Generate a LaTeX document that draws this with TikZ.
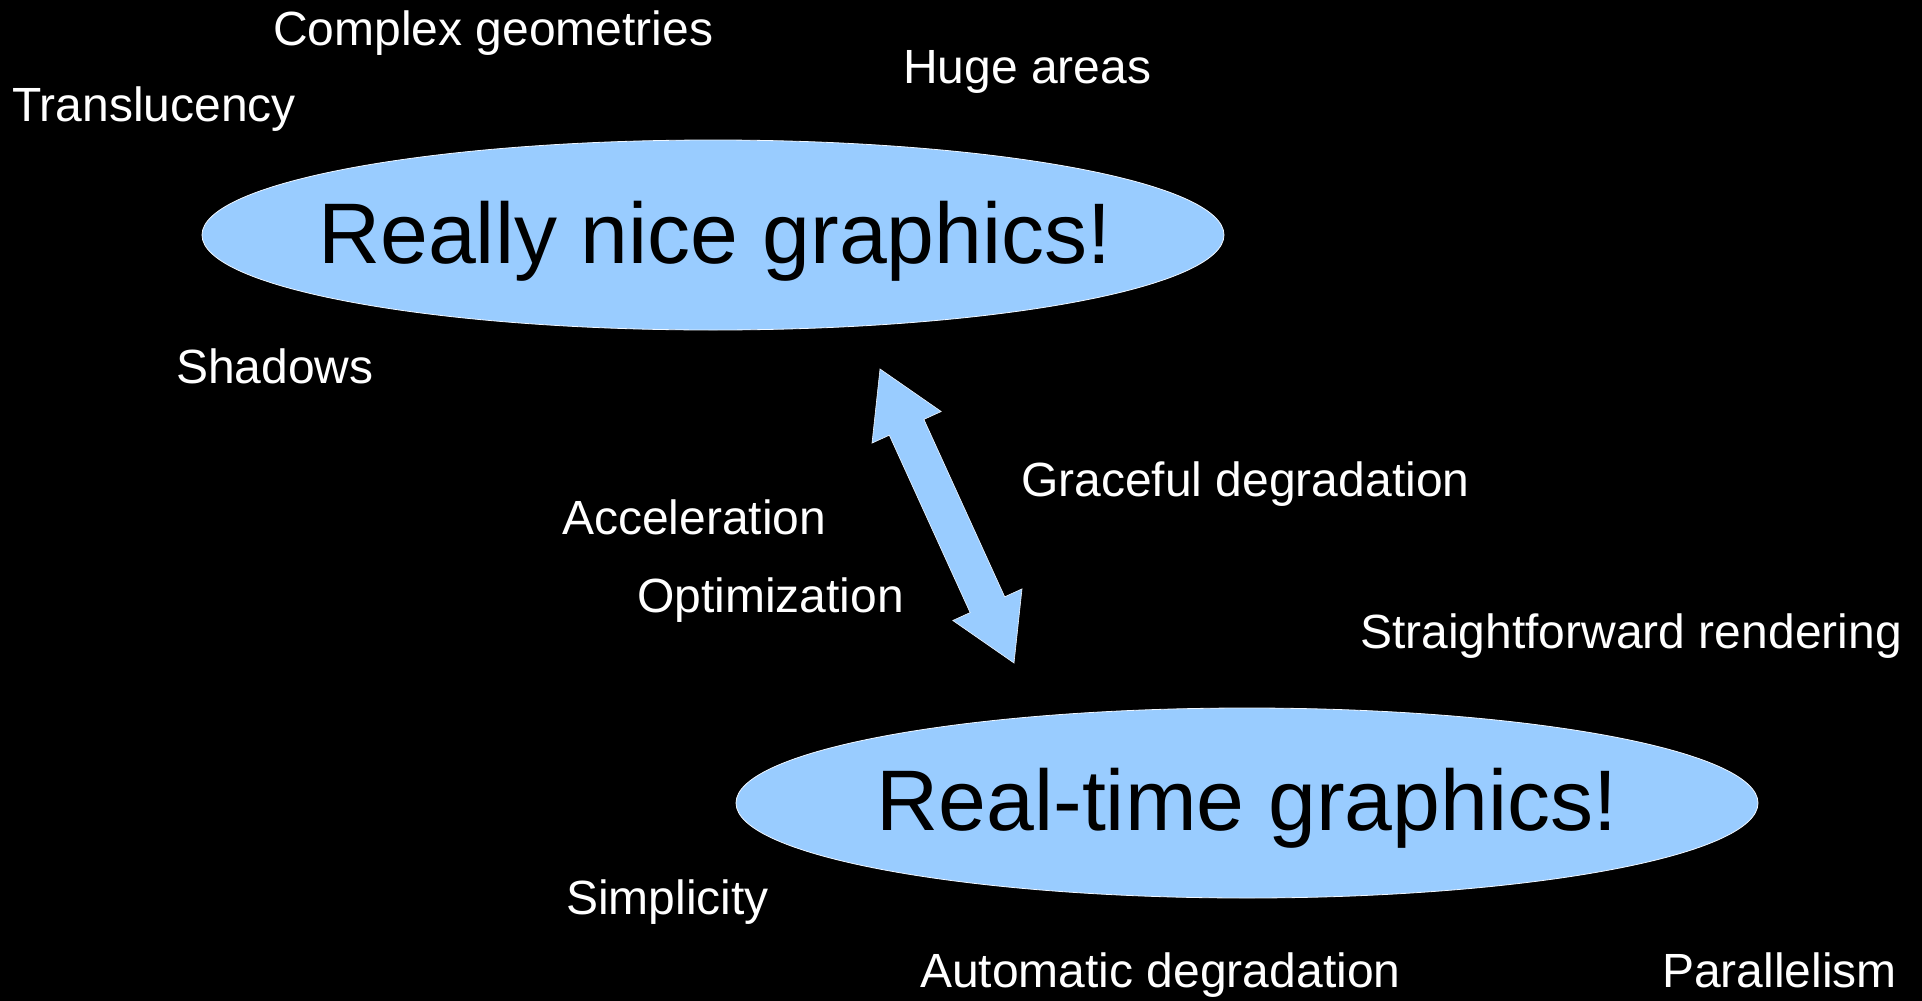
\documentclass[tikz,border=0pt]{standalone}
\usepackage{fontspec}
\setmainfont{Liberation Sans}
\usetikzlibrary{shapes.geometric}
\definecolor{skyfill}{HTML}{99CCFF}
\tikzset{
  bigoval/.style={ellipse, fill=skyfill, draw=white!85!skyfill, line width=0.8pt,
    minimum width=1022pt, minimum height=190pt, inner sep=0pt, outer sep=0pt},
  bigtext/.style={anchor=base, inner sep=0pt, text=black, font=\fontsize{86}{100}\selectfont},
  lbl/.style={anchor=base west, inner sep=0pt, text=white, font=\fontsize{48}{58}\selectfont},
  dblarrow/.style={fill=skyfill, draw=white!85!skyfill, line width=0.6pt, line join=miter}
}
\begin{document}
\begin{tikzpicture}[x=1pt,y=-1pt]
\fill[black] (0,0) rectangle (1922,1001);
\useasboundingbox (0,0) rectangle (1922,1001);

\node[bigoval] (nice) at (713,235) {};
\node[bigtext] (nicet) at (715,263) {Really nice graphics!};
\node[bigoval] (rt) at (1247,803) {};
\node[bigtext] (rtt) at (1247,830) {Real-time graphics!};

% double arrow between the two ovals
\coordinate (tipA) at (880,369);
\coordinate (tipB) at (1014,663);
\draw[dblarrow] (tipA) -- (941.2,411.5) -- (923.9,419.4) -- (1004.7,596.8) -- (1022.0,588.9)
  -- (tipB) -- (952.8,620.5) -- (970.1,612.6) -- (889.3,435.2) -- (872.0,443.1) -- cycle;

\node[lbl] (l1) at (273,45) {Complex geometries};
\node[lbl] (l2) at (903,83) {Huge areas};
\node[lbl] (l3) at (12,121) {Translucency};
\node[lbl] (l4) at (176,383) {Shadows};
\node[lbl] (l5) at (1021,496) {Graceful degradation};
\node[lbl] (l6) at (562,534) {Acceleration};
\node[lbl] (l7) at (637,612) {Optimization};
\node[lbl] (l8) at (1360,648) {Straightforward rendering};
\node[lbl] (l9) at (566,914) {Simplicity};
\node[lbl] (l10) at (920,987) {Automatic degradation};
\node[lbl] (l11) at (1662,987) {Parallelism};
\end{tikzpicture}
\end{document}
